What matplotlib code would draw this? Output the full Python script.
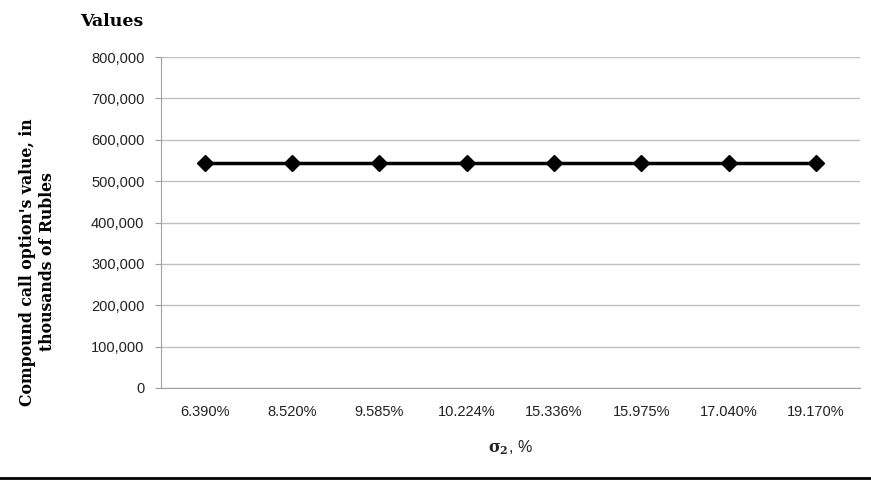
import matplotlib.pyplot as plt
from matplotlib.ticker import FuncFormatter
from matplotlib.lines import Line2D

# sigma_2 levels and compound call option value (thousands of RUB)
categories = ["6.390%", "8.520%", "9.585%", "10.224%", "15.336%", "15.975%", "17.040%", "19.170%"]
values = [545000, 545000, 545000, 545000, 545000, 545000, 545000, 545000]
y_ticks = [0, 100000, 200000, 300000, 400000, 500000, 600000, 700000, 800000]

tick_font = ["Liberation Sans", "DejaVu Sans"]
serif_font = ["DejaVu Serif"]
plt.rcParams["mathtext.fontset"] = "dejavuserif"

fig = plt.figure(figsize=(8.71, 4.88), dpi=100)
ax = fig.add_axes([0.185, 0.205, 0.802, 0.678])

x = list(range(len(categories)))
ax.plot(x, values, color="black", linewidth=2.5, marker="D", markersize=8,
        markerfacecolor="black", markeredgecolor="black")

ax.set_xlim(-0.5, len(categories) - 0.5)
ax.set_ylim(0, 800000)
ax.set_yticks(y_ticks)
ax.yaxis.set_major_formatter(FuncFormatter(lambda v, p: f"{int(v):,}"))
ax.set_xticks(x)
ax.set_xticklabels(categories)

ax.grid(axis="y", color="#c0c0c0", linewidth=1)
ax.set_axisbelow(True)
for s in ["top", "right"]:
    ax.spines[s].set_visible(False)
for s in ["left", "bottom"]:
    ax.spines[s].set_color("#a0a0a0")
ax.tick_params(axis="x", length=0, pad=12, labelsize=10.5, colors="#222222")
ax.tick_params(axis="y", length=4, color="#a0a0a0", pad=8, labelsize=10.5, colors="#222222")
for lab in ax.get_xticklabels() + ax.get_yticklabels():
    lab.set_family(tick_font)

ax.set_xlabel(r"$\mathbf{\sigma_2}$, %", family=["Liberation Sans"], fontsize=11.5,
              labelpad=14, color="#222222")

# y label sits a bit lower than the axes centre, as in the original
fig.text(0.043, 0.463, "Compound call option's value, in\nthousands of Rubles",
         family=serif_font, fontsize=11.3, fontweight="bold", rotation=90,
         ha="center", va="center", multialignment="center", linespacing=1.25)

fig.text(0.092, 0.955, "Values", family=serif_font, fontsize=12.5, fontweight="bold",
         va="center", ha="left")

# black rule under the chart
fig.add_artist(Line2D([0, 1], [0.02, 0.02], transform=fig.transFigure, color="black", linewidth=2))

fig.savefig("out.png", dpi=100)
